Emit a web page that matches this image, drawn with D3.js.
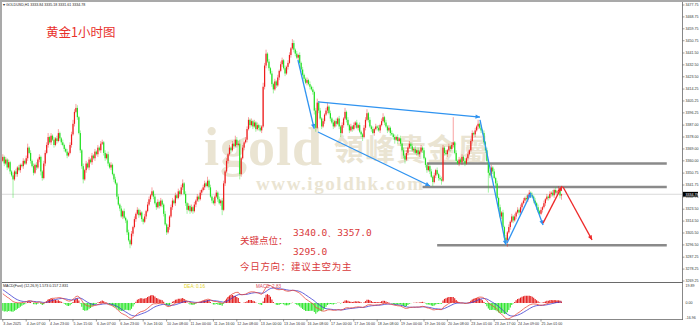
<!DOCTYPE html>
<html><head><meta charset="utf-8">
<script src="https://cdn.jsdelivr.net/npm/d3@7"></script>
<style>html,body{margin:0;padding:0;background:#fff;}svg{display:block;}</style>
</head><body>
<script>
// ---------- DATA ----------
const firstOpen = 3360;
const closes = [
3363,3358,3361,3355,3359,3352,3349,3346,3352,3350,
3355,3353,3357,3356,3360,3358,3362,3370,3366,3360,
3356,3351,3357,3355,3361,3363,3352,3347,3358,3366,
3372,3378,3374,3379,3376,3372,3377,3375,3381,3377,
3374,3372,3369,3367,3364,3366,3372,3380,3388,3397,
3400,3393,3381,3368,3356,3346,3353,3358,3355,3361,
3359,3364,3362,3367,3365,3370,3368,3373,3374,3366,
3362,3365,3358,3355,3357,3350,3346,3343,3333,3327,
3324,3318,3322,3317,3315,3306,3300,3297,3305,3310,
3316,3320,3323,3319,3321,3316,3314,3318,3322,3327,
3331,3334,3337,3333,3328,3325,3329,3326,3330,3327,
3320,3312,3306,3310,3318,3325,3330,3328,3334,3332,
3337,3335,3340,3343,3335,3328,3323,3326,3322,3325,
3322,3327,3330,3333,3331,3336,3338,3340,3343,3341,
3345,3340,3333,3330,3328,3333,3336,3331,3328,3330,
3323,3343,3352,3360,3365,3370,3368,3373,3371,3376,
3372,3373,3350,3362,3370,3374,3376,3384,3391,3387,
3390,3386,3389,3384,3387,3385,3383,3386,3416,3432,
3441,3435,3430,3426,3418,3414,3420,3417,3423,3428,
3433,3436,3430,3426,3431,3434,3440,3445,3449,3444,
3441,3438,3440,3434,3429,3425,3422,3419,3421,3418,
3416,3414,3412,3398,3385,3404,3398,3392,3386,3390,
3395,3398,3401,3396,3392,3389,3386,3390,3388,3392,
3386,3381,3387,3392,3397,3391,3387,3383,3386,3384,
3387,3389,3385,3387,3382,3380,3378,3385,3391,3396,
3391,3386,3384,3381,3384,3386,3385,3383,3387,3390,
3393,3389,3386,3383,3385,3381,3380,3378,3376,3378,
3375,3377,3373,3368,3364,3361,3366,3370,3373,3371,
3368,3369,3366,3368,3365,3367,3370,3368,3362,3357,
3353,3356,3352,3348,3344,3349,3353,3350,3347,3346,
3345,3370,3366,3365,3368,3371,3369,3372,3374,3366,
3360,3358,3361,3359,3363,3360,3358,3362,3365,3368,
3375,3381,3380,3383,3386,3388,3385,3383,3381,3374,
3368,3360,3351,3349,3355,3352,3347,3343,3332,3325,
3318,3321,3310,3302,3300,3306,3310,3314,3318,3315,
3318,3321,3323,3321,3325,3328,3330,3332,3331,3334,
3336,3334,3333,3330,3328,3325,3322,3320,3323,3325,
3328,3331,3333,3332,3335,3336,3334,3338,3336,3337,
3338,3333.84,3334.78];
const upperWicks = [
2,1,2,1,2,1,1,2,1,2, 1,2,1,1,2,1,2,3,1,2, 1,2,1,2,1,2,1,1,2,2, 2,3,1,2,1,2,1,2,3,1,
1,2,1,1,2,1,2,2,3,2, 3,2,1,2,1,2,1,2,1,2, 1,2,1,2,1,2,1,2,2,1, 2,1,2,1,2,1,1,2,1,2,
1,2,1,2,1,1,2,1,2,1, 2,1,2,1,2,1,1,2,1,2, 2,1,3,1,2,1,2,1,2,1, 1,2,1,2,1,2,2,1,2,1,
2,1,2,3,1,2,1,2,1,2, 1,2,1,2,1,2,1,2,2,1, 3,1,2,1,2,1,2,1,2,1, 2,2,1,2,1,2,1,2,1,3,
2,2,3,1,2,1,2,2,2,1, 2,1,2,1,2,1,2,1,3,2, 3,1,2,1,2,1,2,1,2,1, 2,2,1,2,1,2,2,1,3,2,
1,2,1,2,1,2,1,1,2,1, 2,1,2,1,2,3,1,2,1,2, 1,2,3,1,2,1,2,1,2,1, 2,1,2,1,3,1,2,1,2,1,
2,1,2,1,2,1,1,2,2,3, 1,2,1,2,1,2,1,2,1,2, 3,1,2,1,2,1,2,1,2,1, 2,1,2,1,2,1,2,1,2,1,
2,1,2,1,2,1,2,1,2,1, 1,2,1,2,1,2,1,2,1,2, 2,2,1,2,1,2,1,2,19,1, 2,1,2,1,2,1,2,1,2,1,
2,2,1,2,1,3,1,2,1,2, 1,2,1,2,2,1,2,1,2,1, 2,1,2,1,2,1,2,1,2,1, 2,1,2,1,2,1,2,1,2,1,
2,1,2,1,2,1,2,1,2,1, 2,1,2,1,2,1,2,1,2,1, 3,1.3,0.4];
const lowerWicks = [
1,2,1,2,1,2,1,14,1,2, 2,1,2,1,2,1,1,2,1,2, 1,2,1,2,1,2,3,2,1,2, 1,2,1,2,1,2,1,2,1,2,
2,1,2,1,2,1,1,2,1,2, 1,2,1,2,2,3,1,2,1,2, 1,2,1,2,1,2,1,2,1,2, 2,1,2,1,2,1,2,1,2,1,
2,1,2,1,2,2,1,3,1,2, 1,2,1,2,1,2,2,1,2,1, 1,2,1,2,1,2,1,2,1,2, 2,1,2,1,2,1,2,1,2,1,
1,2,1,2,1,2,3,1,2,1, 2,1,2,1,2,1,2,1,2,1, 1,2,1,2,1,2,1,2,1,2, 4,1,2,1,2,1,2,1,2,1,
2,1,4,2,1,2,1,2,1,2, 1,2,1,2,1,2,1,2,1,2, 2,1,2,1,2,3,1,2,1,2, 1,2,1,2,1,2,1,2,1,2,
2,1,2,1,2,1,2,1,2,1, 2,1,2,3,3,1,2,1,2,1, 2,1,2,1,2,1,2,1,2,1, 2,3,1,2,1,2,1,2,1,2,
1,2,1,2,1,2,3,1,2,1, 2,1,2,1,2,1,2,1,2,1, 1,2,1,2,1,2,1,2,3,1, 2,1,2,1,2,3,1,2,1,2,
1,2,1,2,1,2,1,2,1,2, 2,1,2,1,3,1,2,1,2,1, 3,1,2,1,2,1,2,1,2,1, 2,1,2,1,2,1,2,1,2,1,
1,2,1,2,1,2,1,2,1,2, 2,1,15,2,1,2,1,2,1,2, 1,2,1,2,3,5,1,2,1,2, 1,2,1,2,1,2,1,2,1,2,
1,2,1,2,1,2,1,2,1,2, 1,2,1,2,1,2,1,2,1,2, 2,2.2,3.2];

const priceTicks = [3477.75,3468.75,3459.75,3450.75,3441.50,3432.50,3423.50,3414.25,3405.25,3396.25,3387.00,3378.00,3369.00,3360.00,3350.75,3341.75,3332.75,3323.50,3314.50,3305.50,3296.50,3287.25,3278.25,3269.25];
const timeLabels = ["3 Jun 2025","4 Jun 07:00","4 Jun 23:00","5 Jun 15:00","6 Jun 07:00","6 Jun 23:00","9 Jun 16:00","10 Jun 08:00","11 Jun 00:00","11 Jun 16:00","12 Jun 08:00","13 Jun 00:00","13 Jun 16:00","16 Jun 08:00","17 Jun 00:00","17 Jun 16:00","18 Jun 08:00","19 Jun 00:00","19 Jun 16:00","20 Jun 08:00","23 Jun 01:00","23 Jun 17:00","24 Jun 09:00","25 Jun 01:00"];
const labelStep = 16;
const macdTicks = [19.89, 0.00, -16.96];
const macdSeed = {ema12: 3368, ema26: 3357, dea: 15};
const keyLevels = [{p:3358, i0:290, i1:454},{p:3340.3, i0:287, i1:454},{p:3296.3, i0:297, i1:454}];
const blueArrows = [[201.8,3436.2,212.9,3384.3],[215.5,3404.5,326.3,3393.1],[215.5,3381.8,292.1,3341],[326.3,3390.9,344,3296.5],[344.8,3298,361.2,3335.8],[361.8,3334.3,369.4,3311.6]];
const redArrows = [[369.4,3313,382.4,3340.9],[383.1,3340.3,402.9,3300.3]];
const lastBar = {o:3333.84,h:3335.18,l:3331.61,c:3334.78};

// ---------- BUILD ----------
const bars = closes.map((c,i)=>{
  const o = i===0 ? firstOpen : closes[i-1];
  return {i, o, c, h: Math.max(o,c)+upperWicks[i], l: Math.min(o,c)-lowerWicks[i]};
});
// MACD (12,26,9), histogram = 2*(DIF-DEA)
let e12 = macdSeed.ema12, e26 = macdSeed.ema26, dea = macdSeed.dea;
const macd = closes.map((c,i)=>{
  e12 += 2/13*(c-e12); e26 += 2/27*(c-e26);
  const dif = e12-e26; dea += 2/10*(dif-dea);
  return {i, dif, dea, hist: 2*(dif-dea)};
});

const W=700,H=328;
const svg = d3.select("body").append("svg").attr("width",W).attr("height",H)
  .style("font-family","'Liberation Sans',Arial,sans-serif");

const x = d3.scaleLinear().domain([0,466]).range([2.8, 2.8+466*1.4625]);
const y = d3.scaleLinear().domain([3269.25,3477.75]).range([281,5]);
const ym = d3.scaleLinear().domain([-16.96,19.89]).range([319,284]);

// frame
svg.append("rect").attr("x",0).attr("y",0).attr("width",W).attr("height",2).attr("fill","#a9a9a9");
svg.append("rect").attr("x",0).attr("y",0).attr("width",2).attr("height",320).attr("fill","#a9a9a9");
svg.append("line").attr("x1",682.5).attr("x2",682.5).attr("y1",2).attr("y2",320).attr("stroke","#6a6a6a").attr("stroke-width",0.8);
svg.append("line").attr("x1",2).attr("x2",683).attr("y1",282.5).attr("y2",282.5).attr("stroke","#6a6a6a").attr("stroke-width",1);
svg.append("line").attr("x1",2).attr("x2",683).attr("y1",319.5).attr("y2",319.5).attr("stroke","#6a6a6a").attr("stroke-width",0.8);

// watermark
const wm = svg.append("g").attr("fill","#e3dbc4").attr("opacity",0.75);
wm.append("text").attr("x",204).attr("y",165).attr("font-family","'Liberation Serif','DejaVu Serif',serif").attr("font-weight","bold").attr("font-size",54).attr("letter-spacing",1).text("igold");
wm.append("text").attr("x",334).attr("y",160).attr("font-family","'Noto Sans CJK TC',sans-serif").attr("font-weight","bold").attr("font-size",30).attr("letter-spacing",1).text("領峰貴金屬");
wm.append("text").attr("x",256).attr("y",190).attr("font-family","'Liberation Serif','DejaVu Serif',serif").attr("font-weight","bold").attr("font-size",19).attr("letter-spacing",1.6).text("www.igoldhk.com");

// current price line
svg.append("line").attr("x1",2).attr("x2",682).attr("y1",y(lastBar.c)).attr("y2",y(lastBar.c)).attr("stroke","#cfcfcf").attr("stroke-width",0.8);

// key levels
svg.append("g").selectAll("line").data(keyLevels).join("line")
  .attr("x1",d=>x(d.i0)).attr("x2",d=>x(d.i1)).attr("y1",d=>y(d.p)).attr("y2",d=>y(d.p))
  .attr("stroke","#8a8a8a").attr("stroke-width",2.4);

// candles
const up="#ee1c1c", dn="#22e022";
const cg = svg.append("g");
cg.selectAll("line").data(bars).join("line")
  .attr("x1",d=>x(d.i)).attr("x2",d=>x(d.i)).attr("y1",d=>y(d.h)).attr("y2",d=>y(d.l))
  .attr("stroke",d=>d.c>=d.o?up:dn).attr("stroke-width",0.9).attr("opacity",0.45);
cg.selectAll("rect").data(bars).join("rect")
  .attr("x",d=>x(d.i)-0.6).attr("width",1.2)
  .attr("y",d=>y(Math.max(d.o,d.c))).attr("height",d=>Math.max(0.6,Math.abs(y(d.o)-y(d.c))))
  .attr("fill",d=>d.c>=d.o?up:dn);

// arrows
function arrow(g,a,col,w){
  const x1=x(a[0]),y1=y(a[1]),x2=x(a[2]),y2=y(a[3]);
  g.append("line").attr("x1",x1).attr("y1",y1).attr("x2",x2).attr("y2",y2).attr("stroke",col).attr("stroke-width",w);
  const ang=Math.atan2(y2-y1,x2-x1), L=5, s=0.45;
  const p=[[x2,y2],[x2-L*Math.cos(ang-s),y2-L*Math.sin(ang-s)],[x2-L*Math.cos(ang+s),y2-L*Math.sin(ang+s)]];
  g.append("path").attr("d","M"+p.map(q=>q.join(",")).join("L")+"Z").attr("fill",col);
}
const ag = svg.append("g");
blueArrows.forEach(a=>arrow(ag,a,"#2f93f0",1.3));
redArrows.forEach(a=>arrow(ag,a,"#ee2a2a",1.3));

// MACD
const mg = svg.append("g");
mg.selectAll("line").data(macd).join("line")
  .attr("x1",d=>x(d.i)).attr("x2",d=>x(d.i)).attr("y1",ym(0)).attr("y2",d=>ym(d.hist))
  .attr("stroke",d=>d.hist>=0?"#e31a1a":"#2ee62e").attr("stroke-width",1.1);
mg.append("path").datum(macd).attr("fill","none").attr("stroke","#3a3ad0").attr("stroke-width",0.8)
  .attr("d",d3.line().x(d=>x(d.i)).y(d=>ym(d.dea)));
mg.append("path").datum(macd).attr("fill","none").attr("stroke","#e8483c").attr("stroke-width",0.8)
  .attr("d",d3.line().x(d=>x(d.i)).y(d=>ym(d.dif)));

// right axis
const FS = 3.6;
const ax = svg.append("g").attr("font-size",FS).attr("fill","#333");
ax.selectAll("line").data(priceTicks).join("line").attr("x1",682.5).attr("x2",684.5).attr("y1",d=>y(d)).attr("y2",d=>y(d)).attr("stroke","#555").attr("stroke-width",0.6);
ax.selectAll("text").data(priceTicks).join("text").attr("x",685.5).attr("y",d=>y(d)+1.3).text(d=>d.toFixed(2));
svg.append("rect").attr("x",683).attr("y",y(lastBar.c)-2.4).attr("width",15).attr("height",4.8).attr("fill","#000");
svg.append("text").attr("x",685.5).attr("y",y(lastBar.c)+1.3).attr("font-size",FS).attr("fill","#fff").text(lastBar.c.toFixed(2));
const mx = svg.append("g").attr("font-size",FS).attr("fill","#333");
mx.selectAll("text").data(macdTicks).join("text").attr("x",685.5).attr("y",(d,k)=>ym(d)+(k===0?3:k===2?0:1.3)).text(d=>d.toFixed(2));

// time axis
const tg = svg.append("g").attr("font-size",FS).attr("fill","#333");
timeLabels.forEach((t,k)=>{
  const xi=x(k*labelStep);
  tg.append("line").attr("x1",xi).attr("x2",xi).attr("y1",319.5).attr("y2",321.5).attr("stroke","#555").attr("stroke-width",0.6);
  tg.append("text").attr("x",xi+0.5).attr("y",325).text(t);
});

// header texts
svg.append("text").attr("x",3).attr("y",5.8).attr("font-size",FS).attr("fill","#222")
  .text("\u25BE GOLDUSD,H1  "+[lastBar.o,lastBar.h,lastBar.l,lastBar.c].map(v=>v.toFixed(2)).join(" "));
svg.append("text").attr("x",3).attr("y",287.3).attr("font-size",FS).attr("fill","#222")
  .text("MACD(Fast) (12,26,9) 1.573 0.157 2.831");
svg.append("text").attr("x",184).attr("y",287.8).attr("font-size",4.6).attr("fill","#e3d22a").text("DEA:    0.16");
svg.append("text").attr("x",256).attr("y",287.8).attr("font-size",4.6).attr("fill","#d84a5a").text("MACD:    2.83");

// title & notes
svg.append("text").attr("x",46).attr("y",37).attr("font-size",12.5).attr("fill","#e8312b")
  .attr("font-family","'Noto Sans CJK SC',sans-serif").text("黄金1小时图");
const note = svg.append("g").attr("fill","#d9393b");
note.append("text").attr("x",240).attr("y",243.5).attr("font-size",9.5).attr("font-family","'Noto Sans CJK SC',sans-serif").text("关键点位：");
note.append("text").attr("x",293).attr("y",236).attr("font-size",9.5).attr("font-family","'DejaVu Sans Mono',monospace").text("3340.0、3357.0");
note.append("text").attr("x",293).attr("y",255).attr("font-size",9.5).attr("font-family","'DejaVu Sans Mono',monospace").text("3295.0");
note.append("text").attr("x",240).attr("y",269.5).attr("font-size",9.5).attr("font-family","'Noto Sans CJK SC',sans-serif").attr("letter-spacing",0.7).text("今日方向：建议主空为主");
</script>
</body></html>
